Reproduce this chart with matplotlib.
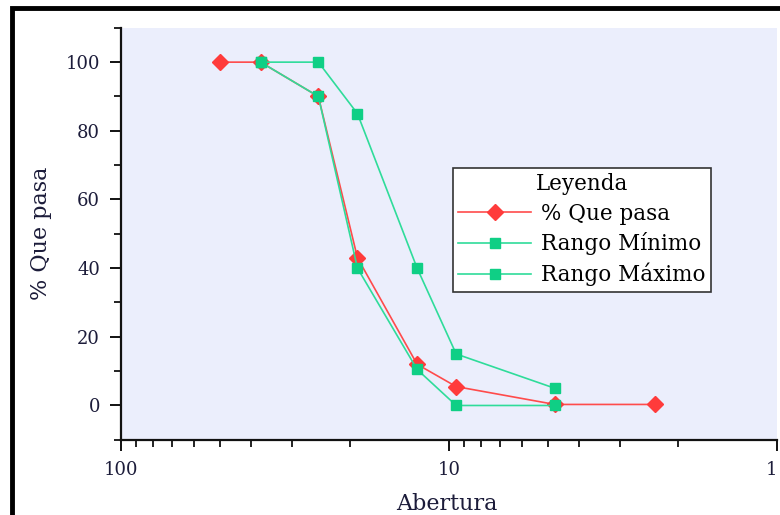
import matplotlib.pyplot as plt
from matplotlib.patches import Rectangle
from matplotlib.ticker import FixedLocator, MultipleLocator, LogLocator, NullFormatter

plt.rcParams.update({
    "font.family": ["DejaVu Serif"],
    "font.size": 12,
})

# tamices (mm) y porcentajes que pasan
abertura = [50, 37.5, 25, 19, 12.5, 9.5, 4.75, 2.36]
que_pasa = [100, 100, 90, 43, 12, 5.5, 0.3, 0.3]

abertura_rango = [37.5, 25, 19, 12.5, 9.5, 4.75]
rango_min = [100, 90, 40, 10.5, 0, 0]
rango_max = [100, 100, 85, 40, 15, 5]

fig = plt.figure(figsize=(7.8, 5.15), dpi=100)
ax = fig.add_axes([0.155, 0.146, 0.841, 0.8])
ax.set_facecolor("#ebeefc")

ax.plot(abertura, que_pasa, color="#ff4b4b", lw=1.2, marker="D", ms=8,
        mfc="#ff3b3b", mec="#ff3b3b", label="% Que pasa")
ax.plot(abertura_rango, rango_min, color="#2fdc9a", lw=1.2, marker="s", ms=7,
        mfc="#0fcf85", mec="#0fcf85", label="Rango Mínimo")
ax.plot(abertura_rango, rango_max, color="#2fdc9a", lw=1.2, marker="s", ms=7,
        mfc="#0fcf85", mec="#0fcf85", label="Rango Máximo")

ax.set_xscale("log")
ax.set_xlim(100, 1)
ax.set_ylim(-10, 110)

ax.xaxis.set_major_locator(FixedLocator([100, 10, 1]))
ax.set_xticklabels(["100", "10", "1"])
ax.get_xticklabels()[-1].set_horizontalalignment("right")
ax.xaxis.set_minor_locator(LogLocator(base=10, subs=range(2, 10)))
ax.xaxis.set_minor_formatter(NullFormatter())
ax.yaxis.set_major_locator(FixedLocator([0, 20, 40, 60, 80, 100]))
ax.yaxis.set_minor_locator(MultipleLocator(10))

for side in ("top", "right"):
    ax.spines[side].set_visible(False)
for side in ("left", "bottom"):
    ax.spines[side].set_linewidth(1.6)
    ax.spines[side].set_color("#111111")

ax.tick_params(which="major", direction="out", length=8, width=1.4,
               labelsize=13, colors="#111111", labelcolor="#1c1c3a", pad=7)
ax.tick_params(which="minor", direction="out", length=5, width=1.3, colors="#111111")

ax.set_xlabel("Abertura", fontsize=16, color="#1c1c3a")
ax.xaxis.set_label_coords(0.497, -0.128)
ax.set_ylabel("% Que pasa", fontsize=16, color="#1c1c3a", labelpad=10)

leg = ax.legend(title="Leyenda", loc="upper left", bbox_to_anchor=(0.506, 0.66),
                fontsize=15.5, title_fontsize=15.5, frameon=True, fancybox=False,
                handlelength=3.4, borderpad=0.25, labelspacing=0.35,
                handletextpad=0.45, borderaxespad=0)
leg.get_frame().set_edgecolor("#333333")
leg.get_frame().set_linewidth(1.2)
leg.get_frame().set_facecolor("white")
leg.get_frame().set_alpha(1)

# marco negro exterior
fig.patches.append(Rectangle((12 / 780, -0.05), 1.1, 1 - 8 / 515 + 0.05,
                             transform=fig.transFigure, fill=False,
                             edgecolor="black", lw=3.5, zorder=10))

fig.savefig("out.png", dpi=100)
